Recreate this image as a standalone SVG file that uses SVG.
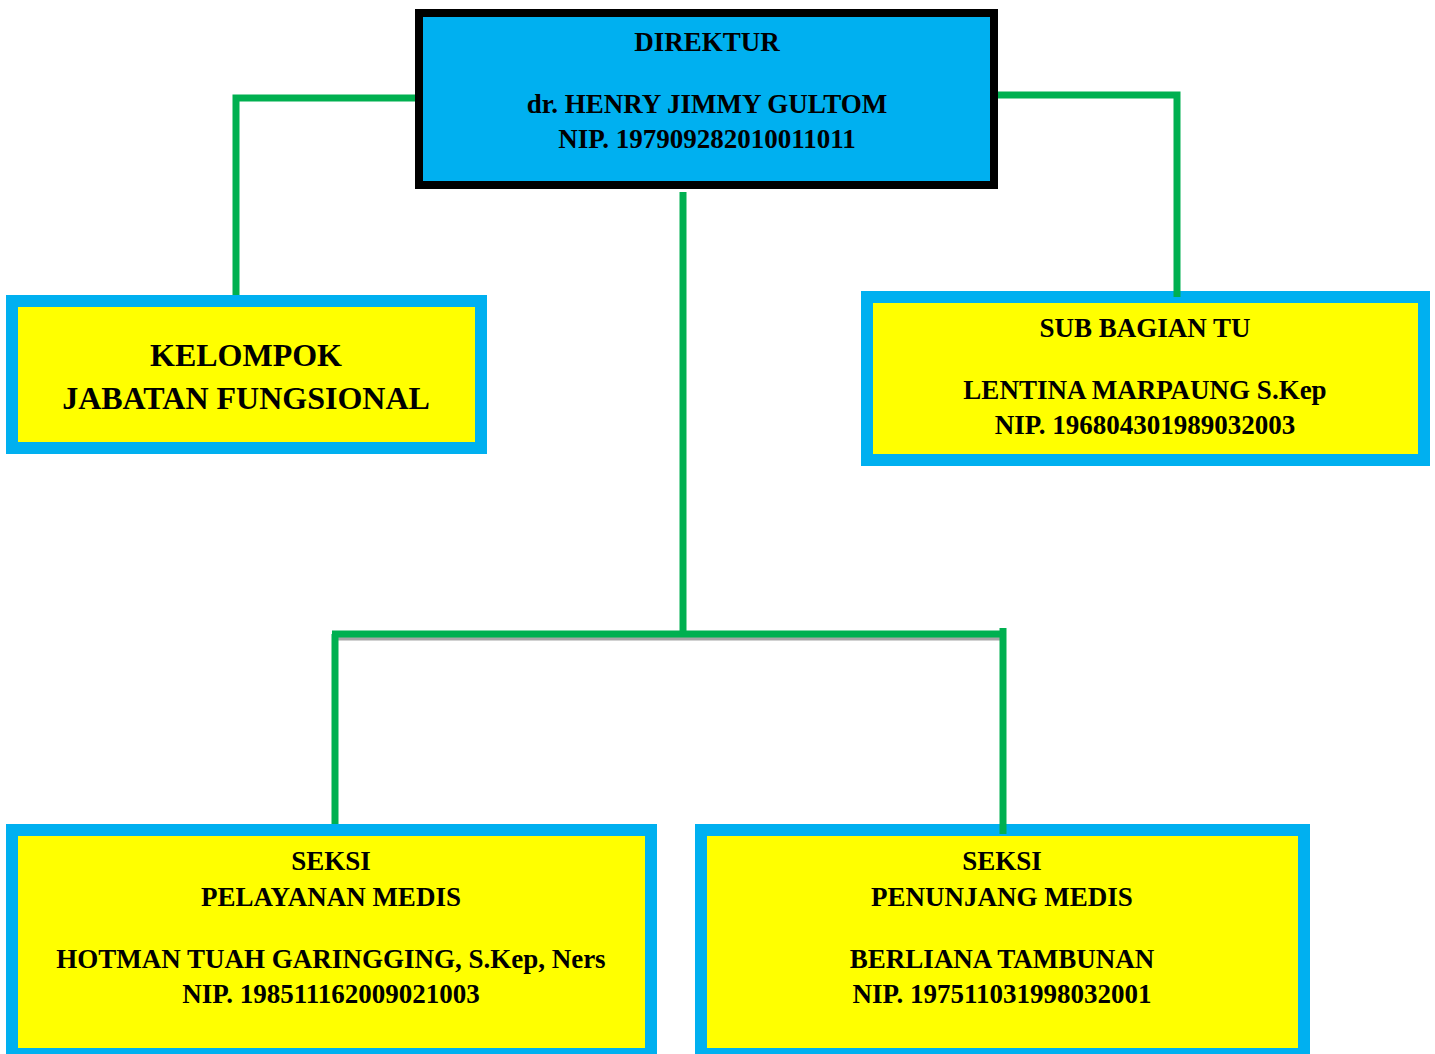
<svg xmlns="http://www.w3.org/2000/svg" width="1435" height="1054" viewBox="0 0 1435 1054">
<style>
.box{fill:#FFFF00;stroke:#00B0F0;stroke-width:12}
.top{fill:#00B0F0;stroke:#000;stroke-width:8}
.t{font-family:"Liberation Serif","Times New Roman",serif;font-weight:bold;font-size:27px;fill:#000;text-anchor:middle}
.big{font-size:32px}
.c{stroke:#00B050;stroke-width:7;fill:none}
</style>
<rect width="1435" height="1054" fill="#fff"/>
<g id="direktur">
<rect class="top" x="419" y="13" width="575" height="172"/>
<text class="t" x="707" y="51">DIREKTUR</text>
<text class="t" x="707" y="113">dr. HENRY JIMMY GULTOM</text>
<text class="t" x="707" y="148">NIP. 197909282010011011</text>
</g>
<g id="kelompok">
<rect class="box" x="12" y="301" width="469" height="147"/>
<text class="t big" x="246" y="366">KELOMPOK</text>
<text class="t big" x="246" y="409">JABATAN FUNGSIONAL</text>
</g>
<g id="subbagian">
<rect class="box" x="867" y="297" width="557" height="163"/>
<text class="t" x="1145" y="337">SUB BAGIAN TU</text>
<text class="t" x="1145" y="399">LENTINA MARPAUNG S.Kep</text>
<text class="t" x="1145" y="434">NIP. 196804301989032003</text>
</g>
<g id="pelayanan">
<rect class="box" x="12" y="830" width="639" height="224"/>
<text class="t" x="331" y="870">SEKSI</text>
<text class="t" x="331" y="906">PELAYANAN MEDIS</text>
<text class="t" x="331" y="968">HOTMAN TUAH GARINGGING, S.Kep, Ners</text>
<text class="t" x="331" y="1003">NIP. 198511162009021003</text>
</g>
<g id="penunjang">
<rect class="box" x="701" y="830" width="603" height="224"/>
<text class="t" x="1002" y="870">SEKSI</text>
<text class="t" x="1002" y="906">PENUNJANG MEDIS</text>
<text class="t" x="1002" y="968">BERLIANA TAMBUNAN</text>
<text class="t" x="1002" y="1003">NIP. 197511031998032001</text>
</g>
<g id="connectors">
<line x1="333" y1="638" x2="1003" y2="638" stroke="#A6A6A6" stroke-width="5"/>
<polyline class="c" points="415,98 236,98 236,295"/>
<polyline class="c" points="998,95 1177,95 1177,297"/>
<line class="c" x1="683" y1="192" x2="683" y2="634"/>
<line class="c" x1="332" y1="634" x2="1003" y2="634"/>
<line class="c" x1="335" y1="634" x2="335" y2="824"/>
<line class="c" x1="1003" y1="628" x2="1003" y2="834" stroke-width="3"/>
</g>
</svg>
